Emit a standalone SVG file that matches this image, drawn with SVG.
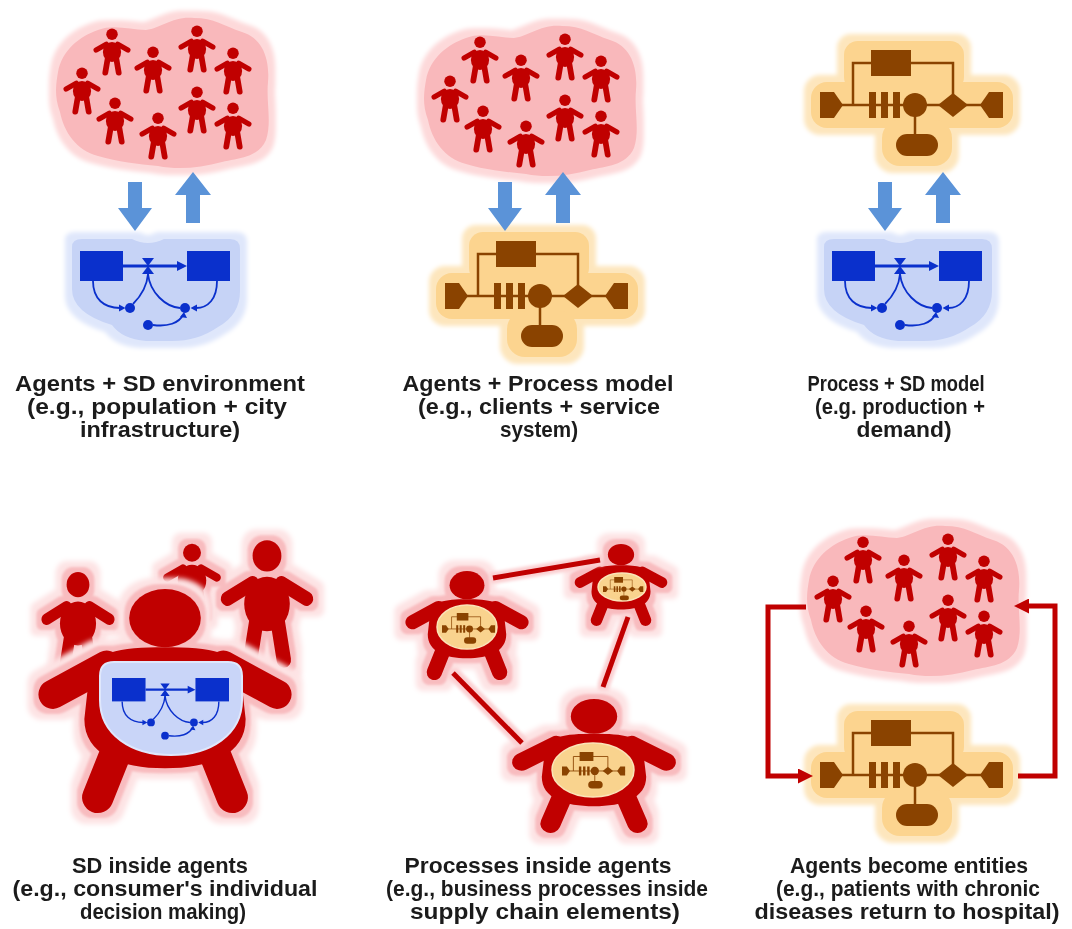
<svg xmlns="http://www.w3.org/2000/svg" width="1072" height="929" viewBox="0 0 1072 929">
<style>
  .lbl { font-family: "Liberation Sans", Arial, sans-serif; font-weight: bold; font-size: 22px; fill: #1b1b1b; text-anchor: middle; }
  .red { fill: #c00000; }
  .limb { fill: none; stroke: #c00000; stroke-linecap: round; }
  .blueArrow { fill: #5b93d8; }
  .redLine { fill: none; stroke: #c00000; stroke-width: 5; }
  .belly { fill: #f9d38e; stroke: #fbe4b8; stroke-width: 1.5; }
</style>
<defs>
  <!-- soft coloured halos around blobs and figures -->
  <filter id="haloCloud" filterUnits="userSpaceOnUse" x="-2000" y="-2000" width="5000" height="5000" color-interpolation-filters="sRGB">
    <feMorphology in="SourceAlpha" operator="dilate" radius="7" result="grow"/>
    <feGaussianBlur in="grow" stdDeviation="2" result="soft"/>
    <feFlood flood-color="#fdd9da"/>
    <feComposite in2="soft" operator="in" result="glow"/>
    <feMerge><feMergeNode in="glow"/><feMergeNode in="SourceGraphic"/></feMerge>
  </filter>
  <filter id="haloBlue" filterUnits="userSpaceOnUse" x="-2000" y="-2000" width="5000" height="5000" color-interpolation-filters="sRGB">
    <feMorphology in="SourceAlpha" operator="dilate" radius="7" result="grow"/>
    <feGaussianBlur in="grow" stdDeviation="2" result="soft"/>
    <feFlood flood-color="#dfe7fb"/>
    <feComposite in2="soft" operator="in" result="glow"/>
    <feMerge><feMergeNode in="glow"/><feMergeNode in="SourceGraphic"/></feMerge>
  </filter>
  <filter id="haloOrange" filterUnits="userSpaceOnUse" x="-2000" y="-2000" width="5000" height="5000" color-interpolation-filters="sRGB">
    <feMorphology in="SourceAlpha" operator="dilate" radius="7" result="grow"/>
    <feGaussianBlur in="grow" stdDeviation="2" result="soft"/>
    <feFlood flood-color="#fde6bd"/>
    <feComposite in2="soft" operator="in" result="glow"/>
    <feMerge><feMergeNode in="glow"/><feMergeNode in="SourceGraphic"/></feMerge>
  </filter>
  <filter id="haloRed" filterUnits="userSpaceOnUse" x="-2000" y="-2000" width="5000" height="5000" color-interpolation-filters="sRGB">
    <feMorphology in="SourceAlpha" operator="dilate" radius="11" result="growOut"/>
    <feGaussianBlur in="growOut" stdDeviation="2.5" result="softOut"/>
    <feFlood flood-color="#fde3e4"/>
    <feComposite in2="softOut" operator="in" result="glowOut"/>
    <feMorphology in="SourceAlpha" operator="dilate" radius="5" result="growIn"/>
    <feGaussianBlur in="growIn" stdDeviation="1.2" result="softIn"/>
    <feFlood flood-color="#f8bcbf"/>
    <feComposite in2="softIn" operator="in" result="glowIn"/>
    <feMerge><feMergeNode in="glowOut"/><feMergeNode in="glowIn"/><feMergeNode in="SourceGraphic"/></feMerge>
  </filter>
  <filter id="haloLine" filterUnits="userSpaceOnUse" x="-2000" y="-2000" width="5000" height="5000" color-interpolation-filters="sRGB">
    <feMorphology in="SourceAlpha" operator="dilate" radius="3" result="grow"/>
    <feGaussianBlur in="grow" stdDeviation="1.5" result="soft"/>
    <feFlood flood-color="#fbd0d2"/>
    <feComposite in2="soft" operator="in" result="glow"/>
    <feMerge><feMergeNode in="glow"/><feMergeNode in="SourceGraphic"/></feMerge>
  </filter>

  <marker id="redHead" viewBox="0 0 10 10" refX="2" refY="5" markerWidth="3" markerHeight="3" orient="auto" markerUnits="strokeWidth">
    <path d="M0,0 L10,5 L0,10 Z" fill="#c00000"/>
  </marker>

  <polygon id="arrDown" points="-7,0 7,0 7,26 17,26 0,49 -17,26 -7,26"/>
  <polygon id="arrUp" points="0,0 18,23 7,23 7,51 -7,51 -7,23 -18,23"/>

  <!-- slim figure, 100 units tall, top of head at y=0 -->
  <g id="kid">
    <circle class="red" cx="0" cy="13" r="12"/>
    <ellipse class="red" cx="0" cy="50" rx="19" ry="21"/>
    <path class="limb" stroke-width="11" d="M-12 34 L-33 46 M12 34 L33 46"/>
    <path class="limb" stroke-width="12" d="M-9 64 L-14 93 M9 64 L14 93"/>
  </g>

  <!-- stout agent figure, 100 units tall -->
  <g id="agent">
    <ellipse class="red" cx="0" cy="13" rx="16" ry="13"/>
    <path class="red" d="M-34 40 C-34 28 -20 26 0 26 C20 26 34 28 34 40 L36 58 C36 74 20 80 0 80 C-20 80 -36 74 -36 58 Z"/>
    <path class="limb" stroke-width="13" d="M-26 34 L-50 47 M26 34 L50 47"/>
    <path class="limb" stroke-width="14" d="M-20 68 L-30 93 M20 68 L30 93"/>
  </g>

  <!-- crowd of agents on a pink blob -->
  <g id="crowd">
    <path fill="#f9b8bb" filter="url(#haloCloud)" d="M58 72 C62 50 80 36 98 30 C114 24 130 30 146 30 C162 28 172 16 194 18 C214 18 224 26 242 32 C262 38 270 58 268 82 C266 102 272 122 266 140 C258 158 238 158 222 162 C200 168 178 170 158 166 C138 164 118 162 98 156 C76 150 64 132 60 112 C54 96 56 84 58 72 Z"/>
    <use href="#kid" transform="translate(112,28) scale(0.48)"/>
    <use href="#kid" transform="translate(197,25) scale(0.48)"/>
    <use href="#kid" transform="translate(153,46) scale(0.48)"/>
    <use href="#kid" transform="translate(233,47) scale(0.48)"/>
    <use href="#kid" transform="translate(82,67) scale(0.48)"/>
    <use href="#kid" transform="translate(115,97) scale(0.48)"/>
    <use href="#kid" transform="translate(197,86) scale(0.48)"/>
    <use href="#kid" transform="translate(158,112) scale(0.48)"/>
    <use href="#kid" transform="translate(233,102) scale(0.48)"/>
  </g>

  <!-- system dynamics stock-and-flow fragment -->
  <path id="sdBlob" fill="#c6d3f6" d="M-8 -4 Q-8 -12 2 -12 L52 -12 Q68 -4 84 -12 L150 -12 Q160 -12 160 -2 L160 40 Q160 64 138 76 Q118 90 92 90 L66 90 Q42 88 32 74 Q-8 62 -8 38 Z"/>
  <g id="sd">
    <g fill="none" stroke="#0a30cc" stroke-width="1.8">
      <path d="M43 15 H99" stroke-width="3"/>
      <path d="M13 30 C13 48 24 57 40 57"/>
      <path d="M53 53 C61 45 67 35 68 23"/>
      <path d="M68 23 C70 42 86 56 100 57"/>
      <path d="M137 30 C137 48 128 57 116 57"/>
      <path d="M73 74 C88 76 99 72 103 64"/>
    </g>
    <g fill="#0a30cc">
      <rect x="0" y="0" width="43" height="30"/>
      <rect x="107" y="0" width="43" height="30"/>
      <polygon points="97,10 107,15 97,20"/>
      <polygon points="62,7 74,7 68,15 74,23 62,23 68,15"/>
      <circle cx="50" cy="57" r="5"/>
      <circle cx="105" cy="57" r="5"/>
      <circle cx="68" cy="74" r="5"/>
      <polygon points="39,53.5 45.5,57 39,60.5"/>
      <polygon points="117,53.5 110.5,57 117,60.5"/>
      <polygon points="100,66 104,61 107,67"/>
    </g>
  </g>

  <!-- process flowchart fragment -->
  <g id="procBlob" fill="#fcd48f">
    <rect x="24" y="-9" width="120" height="50" rx="14"/>
    <rect x="-9" y="32" width="202" height="46" rx="16"/>
    <rect x="62" y="70" width="70" height="46" rx="18"/>
  </g>
  <g id="proc">
    <g fill="none" stroke="#8a4300" stroke-width="2.5">
      <path d="M33 55 V13 H133 V44"/>
      <path d="M0 55 H183"/>
      <path d="M95 55 V86"/>
    </g>
    <g fill="#8a4300">
      <rect x="51" y="0" width="40" height="26"/>
      <polygon points="0,42 14,42 23,55 14,68 0,68"/>
      <rect x="49" y="42" width="7" height="26"/>
      <rect x="61" y="42" width="7" height="26"/>
      <rect x="73" y="42" width="7" height="26"/>
      <circle cx="95" cy="55" r="12"/>
      <rect x="76" y="84" width="42" height="22" rx="11"/>
      <polygon points="133,43 148,55 133,67 118,55"/>
      <polygon points="183,42 169,42 160,55 169,68 183,68"/>
    </g>
  </g>
</defs>

<rect width="1072" height="929" fill="#ffffff"/>

<g id="agents-city">
  <use href="#crowd"/>
</g>
<g id="sd-environment">
  <g transform="translate(80,251)">
    <use href="#sdBlob" filter="url(#haloBlue)"/>
    <use href="#sd"/>
  </g>
</g>

<g id="agents-clients">
  <use href="#crowd" transform="translate(368,8)"/>
</g>
<g id="process-service">
  <g transform="translate(445,241)">
    <use href="#procBlob" filter="url(#haloOrange)"/>
    <use href="#proc"/>
  </g>
</g>

<g id="process-production">
  <g transform="translate(820,50)">
    <use href="#procBlob" filter="url(#haloOrange)"/>
    <use href="#proc"/>
  </g>
</g>
<g id="sd-demand">
  <g transform="translate(832,251)">
    <use href="#sdBlob" filter="url(#haloBlue)"/>
    <use href="#sd"/>
  </g>
</g>

<g id="agent-with-sd">
  <g filter="url(#haloRed)">
    <use href="#kid" transform="translate(78,571) scale(0.95,1.05)"/>
    <use href="#kid" transform="translate(192,543) scale(0.75)"/>
    <use href="#kid" transform="translate(267,539) scale(1.2,1.3)"/>
  </g>
  <g filter="url(#haloRed)">
    <use href="#agent" transform="translate(165,589) scale(2.24)"/>
  </g>
  <path fill="#c9d5f8" stroke="#dfe7fc" stroke-width="2" d="M100 676 Q100 662 114 662 L228 662 Q242 662 242 676 L242 700 C242 735 210 755 171 755 C132 755 100 735 100 700 Z"/>
  <use href="#sd" transform="translate(112,678) scale(0.78)"/>
</g>

<g id="agent-process-a">
  <g filter="url(#haloRed)">
    <use href="#agent" transform="translate(467,571) scale(1.09)"/>
  </g>
  <ellipse class="belly" cx="467" cy="627" rx="30" ry="22"/>
  <use href="#proc" transform="translate(442,613) scale(0.29)"/>
</g>
<g id="agent-process-b">
  <g filter="url(#haloRed)">
    <use href="#agent" transform="translate(621,544) scale(0.82)"/>
  </g>
  <ellipse class="belly" cx="622" cy="587" rx="24" ry="14"/>
  <use href="#proc" transform="translate(603,577) scale(0.22)"/>
</g>
<g id="agent-process-c">
  <g filter="url(#haloRed)">
    <use href="#agent" transform="translate(594,699) scale(1.45,1.34)"/>
  </g>
  <ellipse class="belly" cx="593" cy="770" rx="41" ry="27"/>
  <use href="#proc" transform="translate(562,752) scale(0.345)"/>
</g>

<g id="agents-patients">
  <use href="#crowd" transform="translate(751,508)"/>
</g>
<g id="process-hospital">
  <g transform="translate(820,720)">
    <use href="#procBlob" filter="url(#haloOrange)"/>
    <use href="#proc"/>
  </g>
</g>

<g id="connectors">
  <g class="blueArrow">
    <use href="#arrDown" transform="translate(135,182)"/>
    <use href="#arrUp" transform="translate(193,172)"/>
    <use href="#arrDown" transform="translate(505,182)"/>
    <use href="#arrUp" transform="translate(563,172)"/>
    <use href="#arrDown" transform="translate(885,182)"/>
    <use href="#arrUp" transform="translate(943,172)"/>
  </g>
  <g filter="url(#haloLine)">
    <path class="redLine" d="M493 578 L600 560"/>
    <path class="redLine" d="M628 617 L603 687"/>
    <path class="redLine" d="M453 673 L522 743"/>
  </g>
  <path class="redLine" d="M806 607 H768 V776 H801" marker-end="url(#redHead)"/>
  <path class="redLine" d="M1018 776 H1055 V606 H1026" marker-end="url(#redHead)"/>
</g>

<g id="labels">
  <text class="lbl" x="160" y="391" textLength="290" lengthAdjust="spacingAndGlyphs">Agents + SD environment</text>
  <text class="lbl" x="157" y="414" textLength="260" lengthAdjust="spacingAndGlyphs">(e.g., population + city</text>
  <text class="lbl" x="160" y="437" textLength="160" lengthAdjust="spacingAndGlyphs">infrastructure)</text>

  <text class="lbl" x="538" y="391" textLength="271" lengthAdjust="spacingAndGlyphs">Agents + Process model</text>
  <text class="lbl" x="539" y="414" textLength="242" lengthAdjust="spacingAndGlyphs">(e.g., clients + service</text>
  <text class="lbl" x="539" y="437" textLength="78" lengthAdjust="spacingAndGlyphs">system)</text>

  <text class="lbl" x="896" y="391" textLength="177" lengthAdjust="spacingAndGlyphs">Process + SD model</text>
  <text class="lbl" x="900" y="414" textLength="170" lengthAdjust="spacingAndGlyphs">(e.g. production +</text>
  <text class="lbl" x="904" y="437" textLength="95" lengthAdjust="spacingAndGlyphs">demand)</text>

  <text class="lbl" x="160" y="873" textLength="176" lengthAdjust="spacingAndGlyphs">SD inside agents</text>
  <text class="lbl" x="165" y="896" textLength="305" lengthAdjust="spacingAndGlyphs">(e.g., consumer's individual</text>
  <text class="lbl" x="163" y="919" textLength="166" lengthAdjust="spacingAndGlyphs">decision making)</text>

  <text class="lbl" x="538" y="873" textLength="267" lengthAdjust="spacingAndGlyphs">Processes inside agents</text>
  <text class="lbl" x="547" y="896" textLength="322" lengthAdjust="spacingAndGlyphs">(e.g., business processes inside</text>
  <text class="lbl" x="545" y="919" textLength="270" lengthAdjust="spacingAndGlyphs">supply chain elements)</text>

  <text class="lbl" x="909" y="873" textLength="238" lengthAdjust="spacingAndGlyphs">Agents become entities</text>
  <text class="lbl" x="908" y="896" textLength="264" lengthAdjust="spacingAndGlyphs">(e.g., patients with chronic</text>
  <text class="lbl" x="907" y="919" textLength="305" lengthAdjust="spacingAndGlyphs">diseases return to hospital)</text>
</g>
</svg>
